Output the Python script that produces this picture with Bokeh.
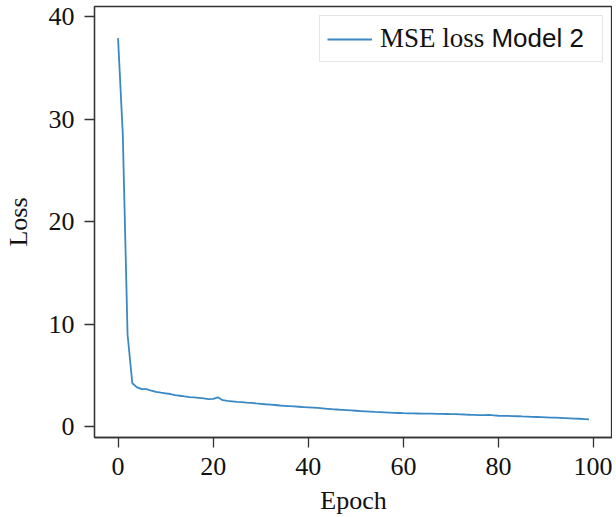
from bokeh.plotting import figure
from bokeh.models import Range1d, Legend, LegendItem, FixedTicker, Label
from bokeh.embed import file_html
from bokeh.resources import INLINE

# ---- data ----
epochs = list(range(100))
mse_loss = [
    37.9, 28.5, 9.0, 4.25, 3.85, 3.68, 3.68, 3.52, 3.4, 3.33,
    3.27, 3.2, 3.1, 3.03, 2.96, 2.9, 2.87, 2.83, 2.77, 2.7,
    2.72, 2.88, 2.6, 2.54, 2.49, 2.44, 2.4, 2.36, 2.33, 2.28,
    2.24, 2.2, 2.17, 2.13, 2.08, 2.05, 2.02, 1.99, 1.96, 1.93,
    1.9, 1.87, 1.84, 1.8, 1.76, 1.72, 1.69, 1.66, 1.63, 1.6,
    1.57, 1.54, 1.51, 1.48, 1.45, 1.43, 1.41, 1.39, 1.37, 1.35,
    1.33, 1.32, 1.31, 1.3, 1.29, 1.28, 1.28, 1.27, 1.26, 1.25,
    1.24, 1.23, 1.21, 1.2, 1.18, 1.17, 1.15, 1.14, 1.16, 1.12,
    1.08, 1.07, 1.06, 1.04, 1.03, 1.01, 1.0, 0.98, 0.96, 0.94,
    0.92, 0.9, 0.89, 0.87, 0.85, 0.83, 0.81, 0.79, 0.76, 0.73,
]
x_ticks = [0, 20, 40, 60, 80, 100]
y_ticks = [0, 10, 20, 30, 40]
legend_serif_part = "MSE loss"
legend_sans_part = "Model 2"
x_title = "Epoch"
y_title = "Loss"

SERIF = "Liberation Serif"
SANS = "Liberation Sans"
FS = "26px"
AXIS_COLOR = "#333333"
TEXT_COLOR = "#111111"

p = figure(
    width=612, height=517,
    output_backend="svg", toolbar_location=None,
    x_range=Range1d(-4.95, 103.95), y_range=Range1d(-1.04, 40.98),
    min_border_left=94, min_border_right=0, min_border_top=6,
    min_border_bottom=0,
)
p.background_fill_color = "white"
p.border_fill_color = "white"
p.grid.visible = False
p.outline_line_color = AXIS_COLOR
p.outline_line_width = 1.3

r = p.line(epochs, mse_loss, line_color="#3a88c4", line_width=1.8)

for ax, ticks in ((p.xaxis, x_ticks), (p.yaxis, y_ticks)):
    ax.ticker = FixedTicker(ticks=ticks)
    ax.minor_tick_line_color = None
    ax.major_tick_in = 0
    ax.major_tick_out = 10
    ax.major_tick_line_color = AXIS_COLOR
    ax.major_tick_line_width = 1.3
    ax.axis_line_color = AXIS_COLOR
    ax.axis_line_width = 1.3
    ax.major_label_text_font = SERIF
    ax.major_label_text_font_size = FS
    ax.major_label_text_color = TEXT_COLOR
    ax.axis_label_text_font = SERIF
    ax.axis_label_text_font_size = FS
    ax.axis_label_text_font_style = "normal"
    ax.axis_label_text_color = TEXT_COLOR

p.xaxis.axis_label = x_title
p.yaxis.axis_label = y_title
p.xaxis.major_label_standoff = 10
p.xaxis.axis_label_standoff = 8
p.yaxis.major_label_standoff = 10
p.yaxis.axis_label_standoff = 13

legend = Legend(
    items=[LegendItem(label=legend_serif_part, renderers=[r])],
    location="top_right",
    label_text_font=SERIF,
    label_text_font_size="27px",
    label_text_color=TEXT_COLOR,
    border_line_color="#cccccc",
    border_line_width=1,
    background_fill_alpha=0.0,
    padding=7,
    margin=9,
    glyph_width=45,
    label_standoff=8,
    label_width=215,
    spacing=0,
)
p.add_layout(legend)

# sans-serif tail of the legend entry, drawn inside the legend box
p.add_layout(Label(
    x=78.5, y=37.9, text=legend_sans_part, level="overlay",
    text_font=SANS, text_font_size=FS, text_color=TEXT_COLOR,
    text_baseline="middle", text_align="left",
))

open("out.html", "w").write(file_html(p, INLINE))
